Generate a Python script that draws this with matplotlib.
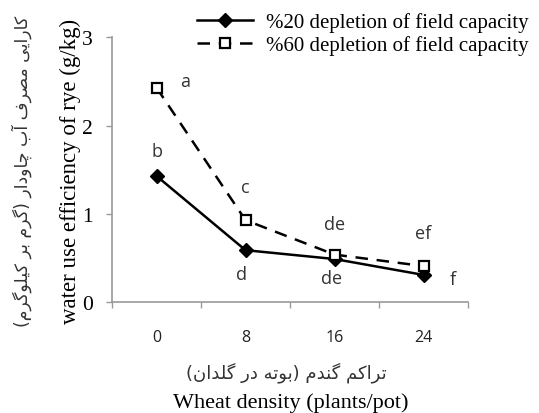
import matplotlib
matplotlib.use("Agg")
import matplotlib.pyplot as plt

# Data
densities = ["0", "8", "16", "24"]
wue_20 = [1.43, 0.59, 0.49, 0.31]
wue_60 = [2.43, 0.93, 0.54, 0.41]
letters_20 = ["b", "d", "de", "f"]
letters_60 = ["a", "c", "de", "ef"]
label_20 = "%20 depletion of field capacity"
label_60 = "%60 depletion of field capacity"
ylabel_en = "water use efficiency of rye (g/kg)"
ylabel_fa = "کارایی مصرف آب چاودار (گرم بر کیلوگرم)"
xlabel_en = "Wheat density (plants/pot)"
xlabel_fa = "تراکم گندم (بوته در گلدان)"

# simple Persian shaping (isolated, final, initial, medial)
forms = {
    "ا": (0xFE8D, 0xFE8E, None, None),
    "آ": (0xFE81, 0xFE82, None, None),
    "د": (0xFEA9, 0xFEAA, None, None),
    "ر": (0xFEAD, 0xFEAE, None, None),
    "و": (0xFEED, 0xFEEE, None, None),
    "ب": (0xFE8F, 0xFE90, 0xFE91, 0xFE92),
    "ت": (0xFE95, 0xFE96, 0xFE97, 0xFE98),
    "چ": (0xFB7A, 0xFB7B, 0xFB7C, 0xFB7D),
    "ص": (0xFEB9, 0xFEBA, 0xFEBB, 0xFEBC),
    "ف": (0xFED1, 0xFED2, 0xFED3, 0xFED4),
    "ک": (0xFB8E, 0xFB8F, 0xFB90, 0xFB91),
    "گ": (0xFB92, 0xFB93, 0xFB94, 0xFB95),
    "ل": (0xFEDD, 0xFEDE, 0xFEDF, 0xFEE0),
    "م": (0xFEE1, 0xFEE2, 0xFEE3, 0xFEE4),
    "ن": (0xFEE5, 0xFEE6, 0xFEE7, 0xFEE8),
    "ه": (0xFEE9, 0xFEEA, 0xFEEB, 0xFEEC),
    "ی": (0xFBFC, 0xFBFD, 0xFBFE, 0xFBFF),
}


def shape(text):
    out = []
    for i, ch in enumerate(text):
        if ch not in forms:
            out.append(ch)
            continue
        prev = text[i - 1] if i > 0 else ""
        nxt = text[i + 1] if i + 1 < len(text) else ""
        join_prev = prev in forms and forms[prev][2] is not None
        join_next = nxt in forms and forms[ch][2] is not None
        iso, fin, ini, med = forms[ch]
        if join_prev and join_next:
            out.append(chr(med))
        elif join_prev:
            out.append(chr(fin))
        elif join_next:
            out.append(chr(ini))
        else:
            out.append(chr(iso))
    s = "".join(out)[::-1]
    return s.replace("(", "\0").replace(")", "(").replace("\0", ")")


x = list(range(len(densities)))

fig = plt.figure(figsize=(5.39, 4.14), dpi=100)
ax = fig.add_axes([0.2078, 0.2674, 0.6605, 0.6401])

ax.plot(x, wue_20, color="black", lw=1.8, marker="D", ms=7.5,
        mfc="black", mec="black", label=label_20)
ax.plot(x, wue_60, color="black", lw=1.8, ls=(0, (5, 3.5)), marker="s",
        ms=7, mfc="white", mec="black", mew=1.6, label=label_60)

# significance letters
off_20 = [(0, 0.28), (-0.05, -0.27), (-0.03, -0.21), (0.33, -0.05)]
off_60 = [(0.32, 0.07), (0, 0.37), (0, 0.35), (0, 0.37)]
for i in x:
    ax.text(i + off_20[i][0], wue_20[i] + off_20[i][1], letters_20[i],
            ha="center", va="center", fontsize=13, color="#333333",
            family="Open Sans")
    ax.text(i + off_60[i][0], wue_60[i] + off_60[i][1], letters_60[i],
            ha="center", va="center", fontsize=13, color="#333333",
            family="Open Sans")

ax.set_xlim(-0.5, 3.5)
ax.set_ylim(0, 3)
ax.set_xticks([-0.5, 0.5, 1.5, 2.5, 3.5])
ax.set_xticklabels([])
ax.set_yticks([0, 1, 2, 3])
ax.set_yticklabels(["0", "1", "2", "3"], family="Liberation Serif",
                   fontsize=15.5)
ax.tick_params(axis="both", direction="out", length=4.5, color="#999999",
               width=1)
ax.tick_params(axis="y", pad=9.5)
for i, d in enumerate(densities):
    ax.text(i, -0.39, d, transform=ax.transData, ha="center", va="center",
            fontsize=11.5, color="#222222", family="Open Sans")
for s in ["top", "right"]:
    ax.spines[s].set_visible(False)
for s in ["left", "bottom"]:
    ax.spines[s].set_color("#999999")
    ax.spines[s].set_linewidth(1.2)

# axis titles
fig.text(0.13, 0.585, ylabel_en, rotation=90, ha="center", va="center",
         family="Liberation Serif", fontsize=16.5)
fig.text(0.041, 0.585, shape(ylabel_fa), rotation=90, ha="center",
         va="center", family=["DejaVu Sans"], fontsize=12.5, color="#333333")
fig.text(0.531, 0.101, shape(xlabel_fa), ha="center", va="center",
         family=["DejaVu Sans"], fontsize=13, color="#333333")
fig.text(0.54, 0.026, xlabel_en, ha="center", va="center",
         family="Liberation Serif", fontsize=16)

leg = fig.legend(loc="upper left", bbox_to_anchor=(0.33, 1.013),
                 frameon=False, prop={"family": "Liberation Serif",
                                      "size": 15},
                 handlelength=2.7, handletextpad=0.65, labelspacing=0.15)

fig.savefig("out.png", dpi=100)
